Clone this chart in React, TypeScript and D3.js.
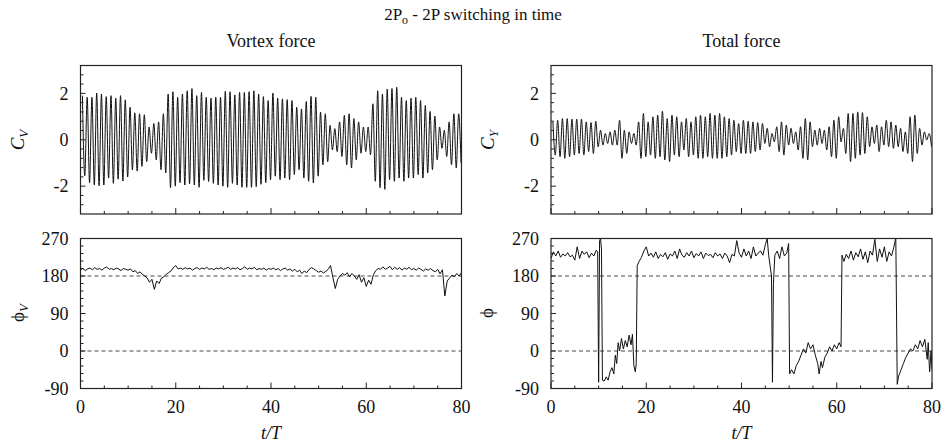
import React from "react";
import * as d3 from "d3";

// ---------- data ----------
const peakPhase = 0.4;
const troughPhase = 0.9;

// Vortex force C_V: per-cycle peak / trough values, t/T = 0..79
const cvPeak = [
  1.90, 1.83, 1.83, 2.01, 1.97, 1.86, 1.90, 1.79, 1.90, 1.72,
  1.40, 1.16, 1.12, 1.08, 0.55, 0.70, 0.77, 1.12, 1.97, 2.07,
  1.83, 1.97, 2.11, 2.21, 1.90, 2.04, 1.83, 1.79, 1.83, 1.83,
  2.09, 2.07, 1.93, 2.04, 2.04, 2.07, 2.11, 1.97, 1.86, 1.69,
  2.01, 1.79, 1.76, 1.73, 1.69, 1.40, 1.33, 1.65, 1.87, 1.83,
  1.19, 1.12, 0.62, 0.48, 0.77, 1.05, 1.12, 0.91, 0.77, 0.55,
  0.55, 1.55, 2.11, 1.97, 2.18, 2.21, 2.26, 1.83, 1.69, 1.79,
  1.83, 1.69, 1.48, 1.22, 1.02, 0.55, 0.41, 0.77, 1.12, 1.12,
];
const cvTrough = [
  -1.55, -1.85, -1.95, -1.98, -1.95, -1.65, -1.88, -1.70, -1.78, -1.60,
  -1.30, -1.35, -1.15, -0.94, -0.58, -0.87, -1.29, -1.43, -2.07, -2.00,
  -1.85, -1.95, -1.90, -1.95, -2.05, -1.75, -1.80, -1.88, -1.95, -2.00,
  -2.05, -1.88, -1.95, -2.05, -2.05, -2.05, -2.02, -1.92, -1.85, -1.72,
  -1.57, -1.72, -1.65, -1.72, -1.50, -1.29, -1.65, -1.79, -1.86, -1.57,
  -1.08, -0.94, -0.44, -0.51, -0.72, -1.08, -1.22, -0.87, -0.58, -0.51,
  -0.65, -1.79, -2.07, -2.14, -1.72, -1.79, -1.65, -1.79, -1.65, -1.65,
  -1.50, -1.65, -1.43, -1.29, -0.87, -0.37, -0.72, -1.08, -1.22, -1.00,
];

// Total force C_Y
const cyPeak = [
  0.77, 0.84, 0.91, 0.91, 0.89, 0.89, 0.89, 0.77, 0.74, 0.80,
  0.41, 0.27, 0.34, 0.41, 0.84, 0.41, 0.34, 0.27, 0.77, 1.13,
  0.77, 0.99, 1.06, 1.23, 0.91, 1.06, 0.99, 0.77, 0.91, 0.77,
  0.99, 1.06, 0.99, 1.13, 1.06, 1.13, 0.99, 0.91, 0.84, 0.70,
  0.84, 0.80, 0.77, 0.74, 0.70, 0.49, 0.27, 0.56, 0.77, 0.63,
  0.49, 0.34, 0.56, 0.91, 0.77, 0.41, 0.49, 0.41, 0.56, 0.84,
  0.99, 0.49, 1.13, 1.13, 1.20, 1.17, 0.99, 0.56, 0.63, 0.56,
  0.84, 0.77, 0.63, 0.49, 0.34, 0.99, 1.06, 0.49, 0.34, 0.27,
];
const cyTrough = [
  -0.66, -0.73, -0.80, -0.73, -0.66, -0.59, -0.66, -0.51, -0.59, -0.30,
  -0.23, -0.16, -0.23, -0.23, -0.80, -0.59, -0.16, -0.23, -0.80, -0.73,
  -0.66, -0.80, -0.73, -0.87, -0.94, -0.66, -0.73, -0.44, -0.73, -0.66,
  -0.80, -0.80, -0.73, -0.80, -0.80, -0.80, -0.73, -0.66, -0.51, -0.59,
  -0.59, -0.59, -0.51, -0.44, -0.16, -0.30, -0.09, -0.51, -0.66, -0.23,
  -0.16, -0.44, -0.80, -0.87, -0.30, -0.23, -0.16, -0.44, -0.73, -0.80,
  -0.09, -0.59, -0.94, -0.80, -0.66, -0.59, -0.30, -0.16, -0.51, -0.23,
  -0.30, -0.37, -0.30, -0.51, -0.59, -0.94, -0.59, -0.23, -0.01, -0.30,
];

// Vortex phase phi_V, sampled every 0.5 t/T from 0 to 80
const phiVStep = 0.5;
const phiV = [
  195, 198, 193, 197, 199, 195, 200, 196, 198, 194, 199, 202, 196, 198, 195, 199, 197, 193, 198, 196, 194,
  197, 190, 193, 186, 190, 184, 180, 175, 165, 172, 148, 168, 162, 175, 178, 184, 188, 192, 200, 205,
  197, 199, 196, 200, 197, 199, 194, 198, 200, 196, 199, 197, 201, 196, 198, 195, 199, 197, 200, 196,
  198, 201, 196, 199, 197, 200, 195, 198, 202, 196, 199, 197, 201, 195, 198, 196, 199, 194, 198, 196,
  199, 195, 198, 193, 197, 199, 194, 197, 192, 196, 190, 194, 186, 192, 188, 196, 200, 197, 193, 189,
  192, 187, 191, 196, 205, 176, 150, 172, 180, 186, 182, 188, 178, 186, 180, 172, 183, 165, 176, 155,
  170, 160, 183, 193, 198, 196, 202, 196, 199, 203, 195, 201, 196, 200, 194, 199, 196, 201, 195, 198,
  194, 199, 196, 192, 197, 194, 198, 193, 190, 196, 185, 195, 132, 168, 175, 182, 178, 186, 180, 188,
];

// Total phase phi: sample times and values
const phiTimes = [
  0, 0.5, 1, 1.5, 2, 2.5, 3, 3.5, 4, 4.5, 5, 5.5, 6, 6.5, 7, 7.5, 8, 8.5, 9, 9.5, 9.8,
  10.0, 10.2, 10.4, 10.6, 10.8, 11.2, 11.6, 12.0, 12.4, 12.8, 13.2, 13.5, 13.8, 14.1, 14.4, 14.8, 15.2, 15.6, 16.0, 16.4, 16.8, 17.1, 17.4, 17.7, 17.9,
  18.1, 18.5, 19, 19.5, 20, 20.5, 21, 21.5, 22, 22.5, 23, 23.5, 24, 24.5, 25, 25.5, 26, 26.5, 27, 27.5, 28, 28.5, 29, 29.5, 30,
  30.5, 31, 31.5, 32, 32.5, 33, 33.5, 34, 34.5, 35, 35.5, 36, 36.5, 37, 37.5, 38, 38.5, 39, 39.5, 40,
  40.5, 41, 41.5, 42, 42.5, 43, 43.5, 44, 44.5, 45, 45.4, 45.7, 46.0, 46.3, 46.5, 46.7, 47.0, 47.5, 48, 48.5, 49, 49.5, 49.9,
  50.1, 50.5, 51, 51.5, 52, 52.5, 53, 53.5, 54, 54.5, 55, 55.5, 56, 56.3, 56.7, 57, 57.5, 58, 58.5, 59, 59.5, 60, 60.5, 60.9,
  61.1, 61.5, 62, 62.5, 63, 63.5, 64, 64.5, 65, 65.5, 66, 66.5, 67, 67.5, 68, 68.5, 69, 69.5, 70, 70.5, 71, 71.5, 72, 72.4,
  72.7, 73, 73.5, 74, 74.5, 75, 75.5, 76, 76.5, 77, 77.5, 78, 78.5, 79, 79.2, 79.5, 79.8, 80,
];
const phiTotal = [
  222, 238, 228, 240, 225, 233, 228, 236, 226, 230, 218, 250, 222, 240, 232, 238, 224, 235, 228, 242, 238,
  -75, 265, 270, 245, -70, -72, -62, -70, -50, -40, -55, -10, -30, 20, 0, 30, 5, 25, 10, 38, 15, 40, -35, -50, -30,
  205, 215, 225, 240, 250, 228, 235, 225, 238, 222, 232, 226, 236, 220, 233, 228, 240, 222, 245, 230, 225, 236, 228, 240, 224,
  234, 228, 238, 222, 235, 229, 232, 224, 236, 228, 233, 222, 235, 228, 212, 232, 228, 265, 235, 225,
  245, 228, 240, 222, 250, 228, 235, 240, 230, 255, 270, 230, 205, 180, -75, 160, 230, 240, 222, 250, 228, 235, 258,
  -55, -45, -55, -35, -25, -10, 5, -5, 20, 5, 15, -10, -30, -55, -25, -40, -15, -5, 10, 0, 15, 5, 20, 10,
  230, 215, 232, 222, 240, 218, 236, 226, 245, 220, 238, 212, 240, 230, 268, 215, 245, 225, 250, 215, 238, 228, 250, 272,
  -80, -60, -45, -30, -15, -5, 5, 0, 15, 5, 25, 10, 28, -20, 20, -50, 0, -45,
];

const xTicksMajor = [0, 20, 40, 60, 80];
const cTickLabels = [-2, 0, 2];
const phiTickLabels = [-90, 0, 90, 180, 270];
const phiRefLines = [0, 180];

// ---------- layout ----------
const W = 946;
const H = 443;
const FONT = "'Liberation Serif', 'Times New Roman', serif";
const cols = [
  { x0: 80.5, x1: 461.5, title: "Vortex force", cx: 271 },
  { x0: 551, x1: 932, title: "Total force", cx: 741.5 },
];
const topRow = { y0: 65.5, y1: 214 };
const botRow = { y0: 238.5, y1: 388.5 };

function oscPoints(peaks: number[], troughs: number[]): [number, number][] {
  const pts: [number, number][] = [];
  peaks.forEach((p, k) => {
    pts.push([k + peakPhase, p]);
    pts.push([k + troughPhase, troughs[k]]);
  });
  return pts;
}

type PanelProps = {
  id: string;
  col: { x0: number; x1: number };
  row: { y0: number; y1: number };
  yDomain: [number, number];
  yMajor: number[];
  yMinorStep: number;
  points: [number, number][];
  curve: d3.CurveFactory;
  refLines?: number[];
  xLabels: boolean;
};

function Panel({ id, col, row, yDomain, yMajor, yMinorStep, points, curve, refLines, xLabels }: PanelProps) {
  const x = d3.scaleLinear().domain([0, 80]).range([col.x0, col.x1]);
  const y = d3.scaleLinear().domain(yDomain).range([row.y1, row.y0]);
  const line = d3
    .line<[number, number]>()
    .x((d) => x(d[0]))
    .y((d) => y(d[1]))
    .curve(curve);
  const yMinor = d3
    .range(yDomain[0], yDomain[1] + 1e-6, yMinorStep)
    .filter((v) => !yMajor.some((m) => Math.abs(m - v) < 1e-6) && v > yDomain[0] + 1e-6 && v < yDomain[1] - 1e-6);
  const xMinor = d3.range(5, 80, 5).filter((v) => v % 20 !== 0);
  const axisColor = "#222";
  return (
    <g>
      <defs>
        <clipPath id={id}>
          <rect x={col.x0} y={row.y0} width={col.x1 - col.x0} height={row.y1 - row.y0} />
        </clipPath>
      </defs>
      {refLines &&
        refLines.map((v) => (
          <line
            key={"r" + v}
            x1={col.x0}
            x2={col.x1}
            y1={y(v)}
            y2={y(v)}
            stroke="#333"
            strokeWidth={0.9}
            strokeDasharray="4,3"
          />
        ))}
      <path d={line(points) || ""} fill="none" stroke="#111" strokeWidth={1} clipPath={`url(#${id})`} />
      <rect
        x={col.x0}
        y={row.y0}
        width={col.x1 - col.x0}
        height={row.y1 - row.y0}
        fill="none"
        stroke={axisColor}
        strokeWidth={1.2}
      />
      {yMajor.map((v) => (
        <line key={"ym" + v} x1={col.x0} x2={col.x0 + 5} y1={y(v)} y2={y(v)} stroke={axisColor} strokeWidth={1} />
      ))}
      {yMinor.map((v) => (
        <line key={"yn" + v} x1={col.x0} x2={col.x0 + 3} y1={y(v)} y2={y(v)} stroke={axisColor} strokeWidth={1} />
      ))}
      {xTicksMajor.map((v) => (
        <line key={"xm" + v} x1={x(v)} x2={x(v)} y1={row.y1} y2={row.y1 - 6} stroke={axisColor} strokeWidth={1} />
      ))}
      {xMinor.map((v) => (
        <line key={"xn" + v} x1={x(v)} x2={x(v)} y1={row.y1} y2={row.y1 - 3} stroke={axisColor} strokeWidth={1} />
      ))}
      {yMajor.map((v) => (
        <text
          key={"yl" + v}
          x={col.x0 - 12}
          y={y(v)}
          dy="0.35em"
          textAnchor="end"
          fontFamily={FONT}
          fontSize={18}
          fill="#111"
        >
          {String(v)}
        </text>
      ))}
      {xLabels &&
        xTicksMajor.map((v) => (
          <text
            key={"xl" + v}
            x={x(v)}
            y={row.y1 + 24}
            textAnchor="middle"
            fontFamily={FONT}
            fontSize={18}
            fill="#111"
          >
            {String(v)}
          </text>
        ))}
    </g>
  );
}

export default function App() {
  const cvPts = oscPoints(cvPeak, cvTrough);
  const cyPts = oscPoints(cyPeak, cyTrough);
  const phiVPts: [number, number][] = phiV.map((v, i) => [i * phiVStep, v]);
  const phiPts: [number, number][] = phiTotal.map((v, i) => [phiTimes[i], v]);

  const yLabel = (xPos: number, yPos: number, main: string, sub: string | null, italicMain: boolean) => (
    <text
      transform={`translate(${xPos},${yPos}) rotate(-90)`}
      textAnchor="middle"
      fontFamily={FONT}
      fontSize={19}
      fill="#111"
    >
      <tspan fontStyle={italicMain ? "italic" : "normal"}>{main}</tspan>
      {sub && (
        <tspan fontStyle="italic" fontSize={13} dy="4">
          {sub}
        </tspan>
      )}
    </text>
  );

  return (
    <svg width={W} height={H} style={{ display: "block", position: "absolute", left: 0, top: 0, background: "#fff" }}>
      <rect x={0} y={0} width={W} height={H} fill="#fff" />
      <text x={473} y={20} textAnchor="middle" fontFamily={FONT} fontSize={17} fill="#111">
        2P<tspan fontSize={12} dy="4">o</tspan>
        <tspan dy="-4"> - 2P switching in time</tspan>
      </text>
      {cols.map((c) => (
        <text key={c.title} x={c.cx} y={47} textAnchor="middle" fontFamily={FONT} fontSize={18} fill="#111">
          {c.title}
        </text>
      ))}

      <Panel
        id="clipA"
        col={cols[0]}
        row={topRow}
        yDomain={[-3.2, 3.2]}
        yMajor={cTickLabels}
        yMinorStep={0.4}
        points={cvPts}
        curve={d3.curveMonotoneX}
        xLabels={false}
      />
      <Panel
        id="clipB"
        col={cols[1]}
        row={topRow}
        yDomain={[-3.2, 3.2]}
        yMajor={cTickLabels}
        yMinorStep={0.4}
        points={cyPts}
        curve={d3.curveMonotoneX}
        xLabels={false}
      />
      <Panel
        id="clipC"
        col={cols[0]}
        row={botRow}
        yDomain={[-90, 270]}
        yMajor={phiTickLabels}
        yMinorStep={18}
        points={phiVPts}
        curve={d3.curveLinear}
        refLines={phiRefLines}
        xLabels={true}
      />
      <Panel
        id="clipD"
        col={cols[1]}
        row={botRow}
        yDomain={[-90, 270]}
        yMajor={phiTickLabels}
        yMinorStep={18}
        points={phiPts}
        curve={d3.curveLinear}
        refLines={phiRefLines}
        xLabels={true}
      />

      {yLabel(24, 140, "C", "V", true)}
      {yLabel(494, 140, "C", "Y", true)}
      {yLabel(24, 313, "ϕ", "V", false)}
      {yLabel(493, 313, "ϕ", null, false)}

      {cols.map((c) => (
        <text
          key={"xt" + c.cx}
          x={c.cx}
          y={439}
          textAnchor="middle"
          fontFamily={FONT}
          fontSize={18}
          fontStyle="italic"
          fill="#111"
        >
          t/T
        </text>
      ))}
    </svg>
  );
}
